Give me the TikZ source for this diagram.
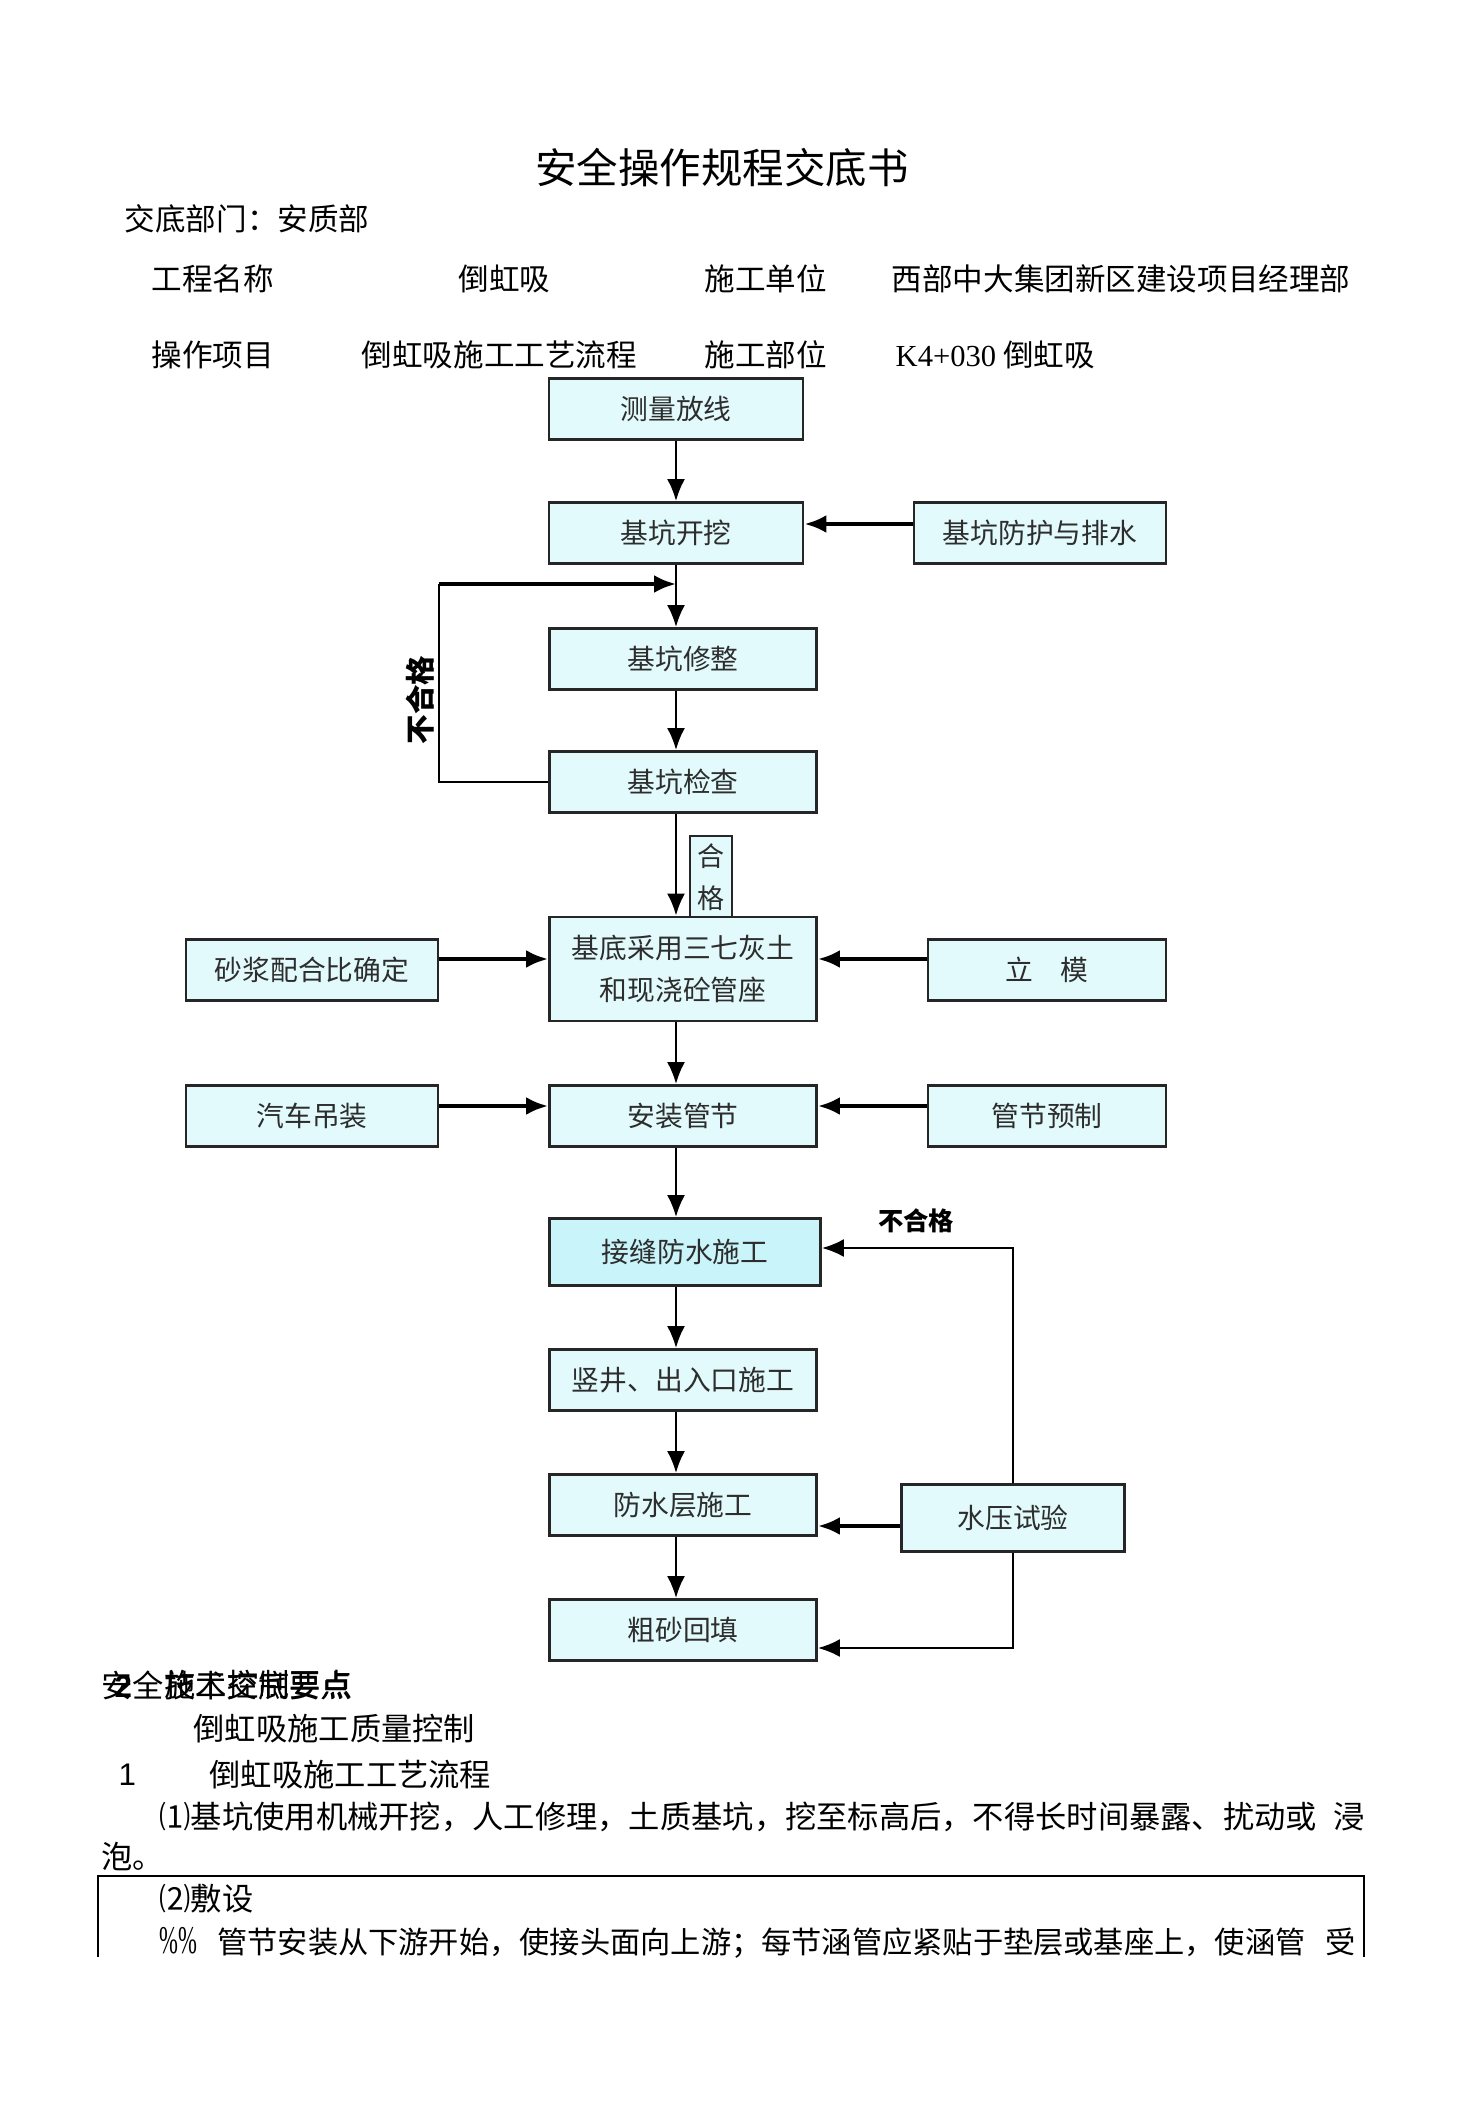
\documentclass[tikz,border=0pt]{standalone}
\usepackage{graphicx}
\usepackage{fontspec}
\setmainfont{Noto Sans CJK SC}
\newfontfamily\latinserif{Liberation Serif}
\newfontfamily\latinsans{Liberation Sans}
\usetikzlibrary{arrows.meta}
\usetikzlibrary{calc}
\definecolor{boxfill}{RGB}{226,250,252}
\definecolor{jointfill}{RGB}{200,244,250}
\definecolor{boxtext}{RGB}{45,45,45}
\newcommand{\fs}[1]{\fontsize{#1}{#1}\selectfont}

\begin{document}
\begin{tikzpicture}[x=0.1mm,y=-0.1mm,>={Latex[length=2.2mm,width=1.8mm]},
    box/.style={draw=black!85,fill=boxfill,line width=0.8pt,inner sep=0pt,minimum height=6.1mm,text=boxtext,font=\fs{7.9pt}},
    txt/.style={anchor=west,inner sep=0pt,font=\fs{8.7pt}},
    flow/.style={->,line width=0.7pt},
    feed/.style={->,line width=1.2pt}]

    \useasboundingbox[fill=white] (0,0) rectangle (1457,2112);

    % Title and header rows
    \node[font=\fs{11.8pt}] (title) at (722,168) {安全操作规程交底书};
    \node[txt] (dept) at (124,219) {交底部门：安质部};
    \node[txt] (projL) at (151,279) {工程名称};
    \node[txt] (projV) at (458,279) {倒虹吸};
    \node[txt] (unitL) at (704,279) {施工单位};
    \node[txt] (unitV) at (891,279) {西部中大集团新区建设项目经理部};
    \node[txt] (itemL) at (151,355) {操作项目};
    \node[txt] (itemV) at (361,355) {倒虹吸施工工艺流程};
    \node[txt] (partL) at (704,355) {施工部位};
    \node[txt] (partV) at (895,355) {{\latinserif K4+030} 倒虹吸};

    % Main process boxes
    \node[box,minimum width=25.4mm] (survey) at (676,409) {测量放线};
    \node[box,minimum width=25.4mm] (dig) at (676,533) {基坑开挖};
    \node[box,minimum width=26.7mm] (trim) at (683,659) {基坑修整};
    \node[box,minimum width=26.7mm] (check) at (683,782) {基坑检查};
    \node[box,minimum width=4.2mm,minimum height=8.2mm,align=center,font=\fontsize{7.7pt}{12pt}\selectfont] (pass) at (711,877) {合\\格};
    \node[box,minimum width=26.7mm,minimum height=10.4mm,align=center,font=\fontsize{7.9pt}{11.7pt}\selectfont] (base) at (683,969) {基底采用三七灰土\\和现浇砼管座};
    \node[box,minimum width=26.7mm] (install) at (683,1116) {安装管节};
    \node[box,fill=jointfill,minimum width=27.1mm,minimum height=6.7mm] (joint) at (685,1252) {接缝防水施工};
    \node[box,minimum width=26.7mm] (shaft) at (683,1380) {竖井、出入口施工};
    \node[box,minimum width=26.7mm] (wproof) at (683,1505) {防水层施工};
    \node[box,minimum width=26.7mm] (backfill) at (683,1630) {粗砂回填};

    % Side boxes
    \node[box,minimum width=25.2mm] (guard) at (1040,533) {基坑防护与排水};
    \node[box,minimum width=25.2mm] (mortar) at (312,970) {砂浆配合比确定};
    \node[box,minimum width=23.8mm] (mould) at (1047,970) {立\hspace{1em}模};
    \node[box,minimum width=25.2mm] (crane) at (312,1116) {汽车吊装};
    \node[box,minimum width=23.8mm] (precast) at (1047,1116) {管节预制};
    \node[box,minimum width=22.3mm,minimum height=6.7mm] (test) at (1013,1518) {水压试验};

    % Loop labels
    \node[rotate=90,font=\bfseries\fs{8.4pt}] (failA) at (420,700) {不合格};
    \node[font=\bfseries\fs{7.2pt}] (failB) at (916,1221) {不合格};

    % Arrows down the main line
    \path[flow] (survey.south) edge (dig.north);
    \path[flow] (dig.south) edge (trim.north -| survey);
    \path[flow] (trim.south -| survey) edge (check.north -| survey);
    \path[flow] (check.south -| survey) edge (base.north -| survey);
    \path[flow] (base.south -| survey) edge (install.north -| survey);
    \path[flow] (install.south -| survey) edge (joint.north -| survey);
    \path[flow] (joint.south -| survey) edge (shaft.north -| survey);
    \path[flow] (shaft.south -| survey) edge (wproof.north -| survey);
    \path[flow] (wproof.south -| survey) edge (backfill.north -| survey);

    % Arrows from side boxes
    \draw[feed] ($(guard.west)+(0,-9)$) -- ($(dig.east)+(0,-9)$);
    \draw[feed] ($(mortar.east)+(0,-11)$) -- ($(base.west)+(0,-10)$);
    \draw[feed] ($(mould.west)+(0,-11)$) -- ($(base.east)+(0,-10)$);
    \draw[feed] ($(crane.east)+(0,-10)$) -- ($(install.west)+(0,-10)$);
    \draw[feed] ($(precast.west)+(0,-10)$) -- ($(install.east)+(0,-10)$);
    \draw[feed] ($(test.west)+(0,8)$) -- ($(wproof.east)+(0,21)$);

    % Return loops
    \coordinate (backL) at (439,584);
    \coordinate (backR) at (676,584);
    \draw[line width=0.7pt] (check.west) -| (backL);
    \draw[flow,line width=1.1pt] (backL) -- (backR);
    \draw[flow] (test.north) |- ($(joint.east)+(0,-4)$);
    \draw[flow] (test.south) |- ($(backfill.east)+(0,18)$);

    % Text below the chart
    \node[txt,font=\fs{8.9pt}] (tipsA) at (101,1685) {安全技术交底要点};
    \node[txt,font=\latinsans\bfseries\fs{8.9pt}] (tipsNo) at (114,1687) {2};
    \node[txt,font=\fs{8.9pt}] (tipsB) at (164,1685) {施工控制要点};
    \node[txt,font=\fs{8.9pt}] (quality) at (193,1729) {倒虹吸施工质量控制};
    \node[txt,font=\latinsans\fs{8.9pt}] (secNo) at (118,1775) {1};
    \node[txt,font=\fs{8.9pt}] (secT) at (209,1775) {倒虹吸施工工艺流程};
    \node[txt,font=\fs{8.9pt}] (paraA) at (159,1817) {\makebox[120.5mm][s]{⑴基坑使用机械开挖，人工修理，土质基坑，挖至标高后，不得长时间暴露、扰动或 浸}};
    \node[txt,font=\fs{8.9pt}] (paraAend) at (101,1856) {泡。};
    \draw[line width=0.8pt] (98,1957) -- (98,1876) -- (1364,1876) -- (1364,1957);
    \node[txt,font=\fs{8.9pt}] (paraB) at (159,1899) {⑵敷设};
    \node[txt,font=\fs{8.6pt}] (paraBtext) at (159,1943) {\makebox[119.6mm][s]{\scalebox{0.75}[1.3]{\latinserif\%\%} 管节安装从下游开始，使接头面向上游；每节涵管应紧贴于垫层或基座上，使涵管 受}};

\end{tikzpicture}
\end{document}
